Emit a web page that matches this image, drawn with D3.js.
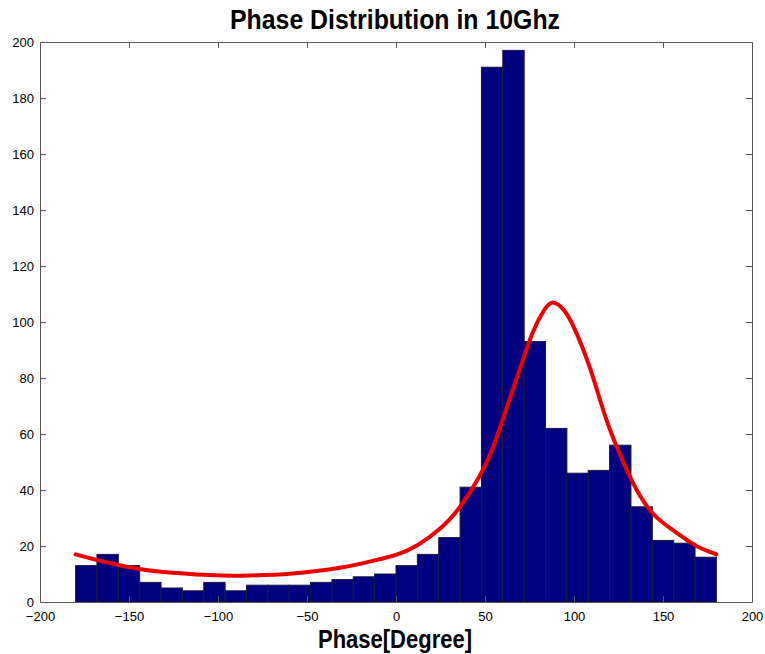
<!DOCTYPE html>
<html>
<head>
<meta charset="utf-8">
<script src="https://cdn.jsdelivr.net/npm/d3@7"></script>
<style>
  html, body { margin: 0; padding: 0; background: #fff; }
  svg { display: block; }
  text { font-family: "Liberation Sans", Arial, Helvetica, sans-serif; }
</style>
</head>
<body>
<svg id="chart" width="765" height="654"></svg>
<script>
// ---- data ----
const binEdgesStart = -180;
const binWidth = 12;
const counts = [13, 17, 13, 7, 5, 4, 7, 4, 6, 6, 6, 7, 8, 9, 10, 13, 17, 23, 41, 191, 197, 93, 62, 46, 47, 56, 34, 22, 21, 16];
const curveX = [-180, -168, -150, -132, -105, -86, -58, -30, -11, 0, 12, 25, 36, 47, 55, 62, 70, 77, 83, 88, 94, 100, 109, 118, 128, 137, 146, 156, 165, 172, 180];
const curveY = [17, 15, 12.4, 10.8, 9.6, 9.4, 10.2, 12.4, 15, 16.8, 20.3, 26.3, 34, 45, 56, 69, 84, 96.5, 104, 107, 104.5, 98, 83.5, 65.5, 49.5, 38, 30.5, 25.5, 21.5, 19, 17];
const xTicks = [-200, -150, -100, -50, 0, 50, 100, 150, 200];
const yTicks = [0, 20, 40, 60, 80, 100, 120, 140, 160, 180, 200];
const titleText = "Phase Distribution in 10Ghz";
const xLabelText = "Phase[Degree]";

// ---- layout ----
const svg = d3.select("#chart");
const mLeft = 40, mRight = 752, mTop = 42, mBottom = 602;
const x = d3.scaleLinear().domain([-200, 200]).range([mLeft, mRight]);
const y = d3.scaleLinear().domain([0, 200]).range([mBottom, mTop]);

const bins = counts.map((c, i) => ({ x0: binEdgesStart + i * binWidth, x1: binEdgesStart + (i + 1) * binWidth, v: c }));

// bars
svg.append("g").selectAll("rect").data(bins).join("rect")
  .attr("x", d => x(d.x0))
  .attr("y", d => y(d.v))
  .attr("width", d => x(d.x1) - x(d.x0))
  .attr("height", d => y(0) - y(d.v))
  .attr("fill", "#000080")
  .attr("stroke", "#1a1a3a")
  .attr("stroke-width", 1);

// curve
const pts = curveX.map((v, i) => [v, curveY[i]]);
svg.append("path")
  .datum(pts)
  .attr("fill", "none")
  .attr("stroke", "#ee0000")
  .attr("stroke-width", 4)
  .attr("stroke-linecap", "round")
  .attr("d", d3.line().x(d => x(d[0])).y(d => y(d[1])).curve(d3.curveNatural));

// axes (MATLAB style, ticks inside, box)
const axisColor = "#555";
const tickLen = 6;
const gx = svg.append("g").attr("transform", `translate(0,${mBottom})`)
  .call(d3.axisBottom(x).tickValues(xTicks).tickSizeInner(-tickLen).tickSizeOuter(0).tickPadding(10));
const gxTop = svg.append("g").attr("transform", `translate(0,${mTop})`)
  .call(d3.axisTop(x).tickValues(xTicks).tickSizeInner(-tickLen).tickSizeOuter(0).tickFormat(""));
const gy = svg.append("g").attr("transform", `translate(${mLeft},0)`)
  .call(d3.axisLeft(y).tickValues(yTicks).tickSizeInner(-tickLen).tickSizeOuter(0).tickPadding(6));
const gyR = svg.append("g").attr("transform", `translate(${mRight},0)`)
  .call(d3.axisRight(y).tickValues(yTicks).tickSizeInner(-tickLen).tickSizeOuter(0).tickFormat(""));

[gx, gxTop, gy, gyR].forEach(g => {
  g.selectAll("line").attr("stroke", axisColor);
  g.select(".domain").attr("stroke", axisColor);
  g.selectAll("text").attr("fill", "#000").style("font-size", "13px").style("font-family", "\"Liberation Sans\", Arial, sans-serif");
});
gx.selectAll(".tick line").filter(d => d === -200 || d === 200).remove();
gxTop.selectAll(".tick line").filter(d => d === -200 || d === 200).remove();
gy.selectAll(".tick line").filter(d => d === 0 || d === 200).remove();
gyR.selectAll(".tick line").filter(d => d === 0 || d === 200).remove();

// title
svg.append("text")
  .attr("x", 395)
  .attr("y", 29)
  .attr("text-anchor", "middle")
  .attr("textLength", 330)
  .attr("lengthAdjust", "spacingAndGlyphs")
  .style("font-size", "27px")
  .style("font-weight", "bold")
  .text(titleText);

// x label
svg.append("text")
  .attr("x", 395)
  .attr("y", 648)
  .attr("text-anchor", "middle")
  .attr("textLength", 154)
  .attr("lengthAdjust", "spacingAndGlyphs")
  .style("font-size", "26px")
  .style("font-weight", "bold")
  .text(xLabelText);
</script>
</body>
</html>
